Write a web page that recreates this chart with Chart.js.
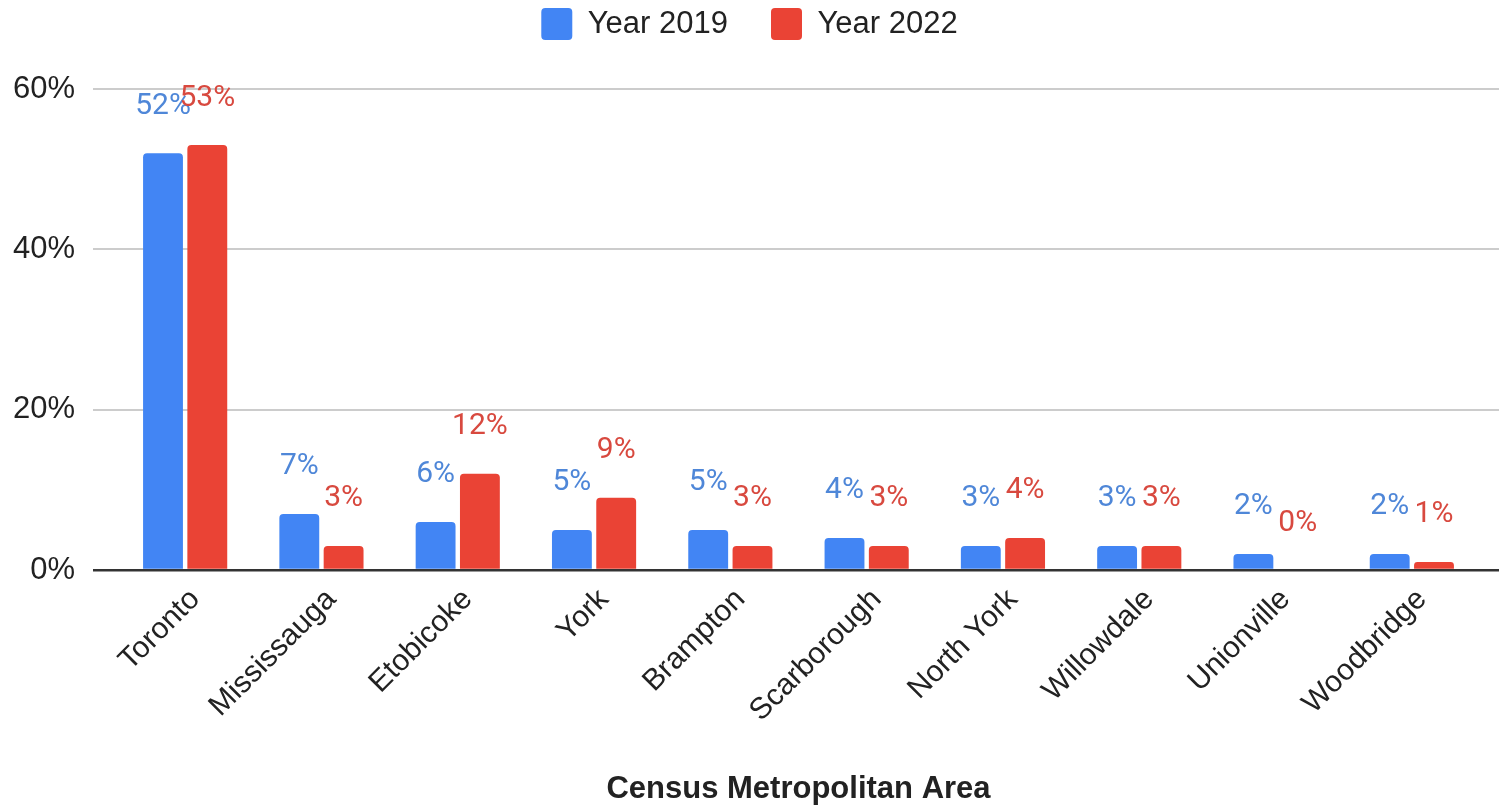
<!DOCTYPE html>
<html lang="en">
<head>
  <meta charset="UTF-8">
  <title>Census Metropolitan Area</title>
  <script src="https://cdn.jsdelivr.net/npm/chart.js"></script>
  <style>
    html, body { margin: 0; padding: 0; background: #fff; }
    .wrap { width: 1499px; height: 805px; }
  </style>
</head>
<body>
  <div class="wrap"><canvas id="grafico"></canvas></div>

  <script>
    const areas = ['Toronto', 'Mississauga', 'Etobicoke', 'York', 'Brampton',
                   'Scarborough', 'North York', 'Willowdale', 'Unionville', 'Woodbridge'];
    const year2019 = [52, 7, 6, 5, 5, 4, 3, 3, 2, 2];
    const year2022 = [53, 3, 12, 9, 3, 3, 4, 3, 0, 1];
    const yTicks = [0, 20, 40, 60];

    const FONT = "'Liberation Sans', Arial, sans-serif";
    const gridColor = ctx => (ctx.tick && ctx.tick.value === 0) ? '#333333' : '#cccccc';
    const gridWidth = ctx => (ctx.tick && ctx.tick.value === 0) ? 2.5 : 2;

    // value labels above each bar
    const barLabels = {
      id: 'barLabels',
      afterDatasetsDraw(chart) {
        const ctx = chart.ctx;
        ctx.save();
        ctx.font = "30px Roboto, sans-serif";
        ctx.textAlign = 'center';
        ctx.textBaseline = 'middle';
        chart.data.datasets.forEach((ds, i) => {
          const meta = chart.getDatasetMeta(i);
          ctx.fillStyle = ds.labelColor;
          meta.data.forEach((bar, j) => {
            ctx.fillText(ds.data[j] + '%', bar.x, bar.y - 47);
          });
        });
        ctx.restore();
      }
    };

    // legend: fixed block height, row pulled up near the top edge
    const legendBox = {
      id: 'legendBox',
      beforeLayout(chart) {
        const lg = chart.legend;
        if (lg && !lg._fixed) {
          const fit = lg.fit;
          lg.fit = function () { fit.call(this); this.height = 89; };
          lg._fixed = true;
        }
      },
      afterLayout(chart) {
        chart.legend.top = -35;
      }
    };

    new Chart(document.getElementById('grafico'), {
      type: 'bar',
      data: {
        labels: areas,
        datasets: [
          {
            label: 'Year 2019',
            data: year2019,
            backgroundColor: '#4285F4',
            labelColor: '#4f87d8',
            borderRadius: 4,
            borderSkipped: 'bottom'
          },
          {
            label: 'Year 2022',
            data: year2022,
            backgroundColor: '#EA4335',
            labelColor: '#d8493f',
            borderRadius: 4,
            borderSkipped: 'bottom'
          }
        ]
      },
      options: {
        responsive: true,
        maintainAspectRatio: false,
        animation: false,
        categoryPercentage: 0.65,
        barPercentage: 0.9,
        layout: { padding: 0 },
        plugins: {
          tooltip: { enabled: false },
          legend: {
            position: 'top',
            labels: {
              boxWidth: 31,
              boxHeight: 32,
              useBorderRadius: true,
              borderRadius: 4,
              padding: 43,
              color: '#222',
              font: { family: FONT, size: 31 }
            }
          }
        },
        scales: {
          x: {
            grid: { display: false },
            border: { display: false },
            ticks: {
              color: '#222',
              font: { family: FONT, size: 30 },
              minRotation: 45,
              maxRotation: 45,
              labelOffset: 10,
              padding: 4
            },
            title: {
              display: true,
              text: 'Census Metropolitan Area',
              color: '#222',
              font: { family: FONT, size: 31, weight: 'bold', lineHeight: 1 },
              padding: { top: 0, bottom: 0 }
            },
            afterFit(scale) { scale.height = 235; }
          },
          y: {
            min: 0,
            max: 60,
            border: { display: false },
            grid: { color: gridColor, lineWidth: gridWidth, tickLength: 24 },
            afterBuildTicks(scale) { scale.ticks = yTicks.map(v => ({ value: v })); },
            ticks: {
              color: '#222',
              padding: 18,
              font: { family: FONT, size: 31 },
              callback: v => v + '%'
            },
            afterFit(scale) { scale.width = 117; }
          },
          yRight: {
            position: 'right',
            min: 0,
            max: 60,
            border: { display: false },
            grid: { color: gridColor, lineWidth: gridWidth, drawOnChartArea: false, tickLength: 19 },
            afterBuildTicks(scale) { scale.ticks = yTicks.map(v => ({ value: v })); },
            ticks: { display: false },
            afterFit(scale) { scale.width = 19; }
          }
        }
      },
      plugins: [barLabels, legendBox]
    });
  </script>
</body>
</html>
